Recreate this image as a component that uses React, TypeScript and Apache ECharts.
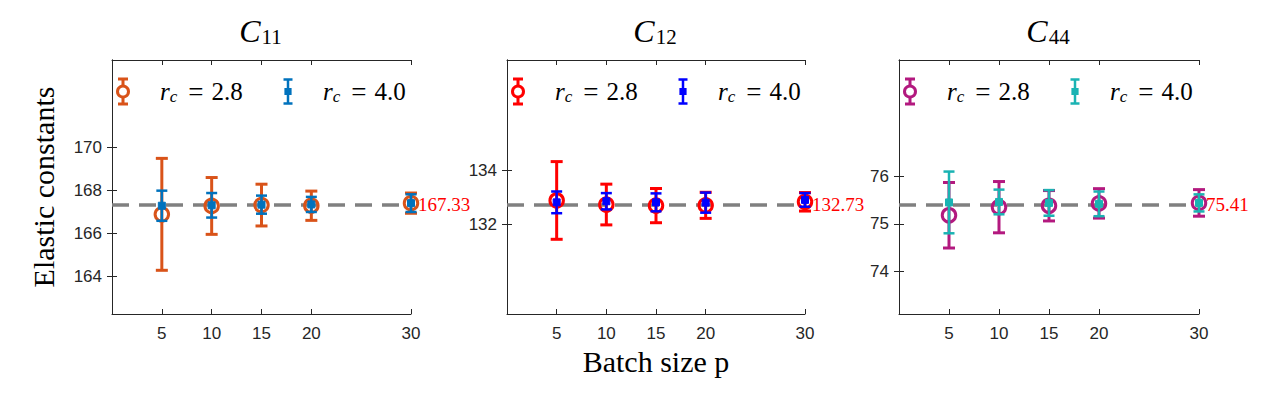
import React, { useEffect, useRef } from "react";
import * as echarts from "echarts";

// ---------- data ----------
const batchSizes = [5, 10, 15, 20, 30];
const xTicks = [5, 10, 15, 20, 30];

const c11Rc28Mean = [166.88, 167.27, 167.31, 167.28, 167.4];
const c11Rc28Err = [2.6, 1.32, 0.97, 0.68, 0.47];
const c11Rc40Mean = [167.28, 167.3, 167.33, 167.34, 167.4];
const c11Rc40Err = [0.7, 0.57, 0.42, 0.35, 0.41];
const c11Ref = 167.33;
const c11Ticks = [164, 166, 168, 170];

const c12Rc28Mean = [132.88, 132.73, 132.69, 132.7, 132.83];
const c12Rc28Err = [1.43, 0.75, 0.63, 0.48, 0.34];
const c12Rc40Mean = [132.81, 132.85, 132.81, 132.8, 132.9];
const c12Rc40Err = [0.4, 0.3, 0.33, 0.37, 0.25];
const c12Ref = 132.73;
const c12Ticks = [132, 134];

const c44Rc28Mean = [75.18, 75.35, 75.38, 75.43, 75.44];
const c44Rc28Err = [0.69, 0.54, 0.32, 0.31, 0.28];
const c44Rc40Mean = [75.45, 75.46, 75.44, 75.42, 75.44];
const c44Rc40Err = [0.65, 0.26, 0.27, 0.26, 0.18];
const c44Ref = 75.41;
const c44Ticks = [74, 75, 76];

const panelTitles = ["11", "12", "44"];
const legendLabels = ["2.8", "4.0"];

// ---------- styling ----------
const panels = [
  { left: 112, width: 299, yMin: 162.25, yMax: 174.05, colors: ["#D95319", "#0072BD"], m28: c11Rc28Mean, e28: c11Rc28Err, m40: c11Rc40Mean, e40: c11Rc40Err, ref: c11Ref, ticks: c11Ticks },
  { left: 507, width: 298, yMin: 128.7, yMax: 138.05, colors: ["#FF0000", "#0000FF"], m28: c12Rc28Mean, e28: c12Rc28Err, m40: c12Rc40Mean, e40: c12Rc40Err, ref: c12Ref, ticks: c12Ticks },
  { left: 899, width: 300, yMin: 73.1, yMax: 78.45, colors: ["#B3197F", "#1AB3B3"], m28: c44Rc28Mean, e28: c44Rc28Err, m40: c44Rc40Mean, e40: c44Rc40Err, ref: c44Ref, ticks: c44Ticks },
];
const GRID_TOP = 60;
const GRID_H = 254;
const AXIS_COLOR = "#262626";
const SANS = "Liberation Sans";
const SERIF = "Liberation Serif";

function errorSeries(i: number, means: number[], errs: number[], color: string, cap: number, lw: number, z: number) {
  return {
    type: "custom",
    xAxisIndex: i,
    yAxisIndex: i,
    z,
    data: batchSizes.map((x, k) => [x, means[k] - errs[k], means[k] + errs[k]]),
    renderItem: (params: any, api: any) => {
      const lo = api.coord([api.value(0), api.value(1)]);
      const hi = api.coord([api.value(0), api.value(2)]);
      const st = { stroke: color, lineWidth: lw };
      return {
        type: "group",
        children: [
          { type: "line", shape: { x1: lo[0], y1: lo[1], x2: hi[0], y2: hi[1] }, style: st },
          { type: "line", shape: { x1: lo[0] - cap, y1: lo[1], x2: lo[0] + cap, y2: lo[1] }, style: st },
          { type: "line", shape: { x1: hi[0] - cap, y1: hi[1], x2: hi[0] + cap, y2: hi[1] }, style: st },
        ],
      };
    },
  };
}

function legendGraphic(p: any) {
  const cy = 91.5;
  const items: any[] = [];
  const mk = (cx: number, color: string, circle: boolean, tx: number, label: string) => {
    const half = circle ? 12.5 : 12;
    const cap = circle ? 5 : 4.5;
    const lw = circle ? 3 : 2.5;
    const st = { stroke: color, lineWidth: lw };
    items.push({ type: "line", shape: { x1: cx, y1: cy - half, x2: cx, y2: cy + half }, style: st, silent: true });
    items.push({ type: "line", shape: { x1: cx - cap, y1: cy - half, x2: cx + cap, y2: cy - half }, style: st, silent: true });
    items.push({ type: "line", shape: { x1: cx - cap, y1: cy + half, x2: cx + cap, y2: cy + half }, style: st, silent: true });
    if (circle) {
      items.push({ type: "circle", shape: { cx, cy, r: 5.5 }, style: { fill: "#fff", stroke: color, lineWidth: 3 }, silent: true });
    } else {
      items.push({ type: "rect", shape: { x: cx - 3, y: cy - 3, width: 6, height: 6 }, style: { fill: color, stroke: color, lineWidth: 1.2 }, silent: true });
    }
    items.push({
      type: "text",
      x: tx,
      y: cy,
      style: {
        text: "{r|r}{c|c}{eq|=}{n|" + label + "}",
        verticalAlign: "middle",
        align: "left",
        font: "24px Liberation Serif",
        rich: {
          r: { font: "italic 25px Liberation Serif", fontFamily: SERIF, fontStyle: "italic", fontSize: 25, lineHeight: 30, fill: "#000" },
          c: { font: "italic 17px Liberation Serif", fontFamily: SERIF, fontStyle: "italic", fontSize: 17, padding: [10, 0, 0, 0], fill: "#000" },
          eq: { font: "27px Liberation Serif", fontFamily: SERIF, fontSize: 27, padding: [0, 8, 0, 11], fill: "#000" },
          n: { font: "25px Liberation Serif", fontFamily: SERIF, fontSize: 25, fill: "#000" },
        },
      },
      silent: true,
    });
  };
  mk(p.left + 11, p.colors[0], true, p.left + 48, legendLabels[0]);
  mk(p.left + 176, p.colors[1], false, p.left + 211, legendLabels[1]);
  return items;
}

export default function App() {
  const ref = useRef<HTMLDivElement>(null);
  useEffect(() => {
    document.body.style.margin = "0";
    if (!ref.current) return;
    const chart = echarts.init(ref.current, null, { renderer: "svg" });

    const grid: any[] = [];
    const xAxis: any[] = [];
    const yAxis: any[] = [];
    const series: any[] = [];
    const title: any[] = [];
    let graphic: any[] = [];

    panels.forEach((p) => {
      grid.push({ left: p.left, top: GRID_TOP, width: p.width, height: GRID_H, containLabel: false });
    });
    panels.forEach((p, i) => {
      xAxis.push({
        type: "value",
        gridIndex: i,
        min: 0,
        max: 30,
        position: "bottom",
        axisLine: { show: true, lineStyle: { color: AXIS_COLOR, width: 1 } },
        axisTick: { show: true, inside: true, length: 5, customValues: xTicks, lineStyle: { color: AXIS_COLOR } },
        axisLabel: { show: true, customValues: xTicks, margin: 11, fontFamily: SANS, fontSize: 17, color: AXIS_COLOR },
        splitLine: { show: false },
        ...(i === 1
          ? {
              name: "Batch size p",
              nameLocation: "middle",
              nameGap: 32,
              nameTextStyle: { fontFamily: SERIF, fontSize: 30, color: "#000", verticalAlign: "top" },
            }
          : {}),
      });
    });
    panels.forEach((p, i) => {
      xAxis.push({
        type: "value",
        gridIndex: i,
        min: 0,
        max: 30,
        position: "top",
        axisLine: { show: true, lineStyle: { color: AXIS_COLOR, width: 1 } },
        axisTick: { show: true, inside: true, length: 5, customValues: xTicks, lineStyle: { color: AXIS_COLOR } },
        axisLabel: { show: false },
        splitLine: { show: false },
      });
    });
    panels.forEach((p, i) => {
      yAxis.push({
        type: "value",
        gridIndex: i,
        min: p.yMin,
        max: p.yMax,
        position: "left",
        axisLine: { show: true, lineStyle: { color: AXIS_COLOR, width: 1 } },
        axisTick: { show: true, inside: true, length: 5, customValues: p.ticks, lineStyle: { color: AXIS_COLOR } },
        axisLabel: { show: true, customValues: p.ticks, margin: 10, fontFamily: SANS, fontSize: 17, color: AXIS_COLOR },
        splitLine: { show: false },
        ...(i === 0
          ? {
              name: "Elastic constants",
              nameLocation: "middle",
              nameGap: 54,
              nameTextStyle: { fontFamily: SERIF, fontSize: 30, color: "#000" },
            }
          : {}),
      });
    });
    panels.forEach((p, i) => {
      yAxis.push({
        type: "value",
        gridIndex: i,
        min: p.yMin,
        max: p.yMax,
        position: "right",
        axisLine: { show: true, lineStyle: { color: AXIS_COLOR, width: 1 } },
        axisTick: { show: true, inside: true, length: 5, customValues: p.ticks, lineStyle: { color: AXIS_COLOR } },
        axisLabel: { show: false },
        splitLine: { show: false },
      });
    });

    panels.forEach((p, i) => {
      series.push({
        type: "line",
        xAxisIndex: i,
        yAxisIndex: i,
        data: [],
        z: 1,
        markLine: {
          silent: true,
          symbol: "none",
          z: 1,
          lineStyle: { color: "#808080", width: 3.5, type: [17, 10] },
          label: {
            show: true,
            position: "end",
            distance: 7,
            formatter: () => "{v|" + p.ref.toFixed(2) + "}",
            rich: {
              v: { fontFamily: SERIF, fontSize: 19, color: "#FF0000", fontWeight: "normal" },
            },
            color: "#FF0000",
            fontFamily: SERIF,
            fontSize: 19,
          },
          emphasis: { disabled: true },
          data: [{ yAxis: p.ref }],
        },
      });
      series.push(errorSeries(i, p.m28, p.e28, p.colors[0], 6, 3, 3));
      series.push({
        type: "scatter",
        xAxisIndex: i,
        yAxisIndex: i,
        z: 4,
        symbol: "circle",
        symbolSize: 13.5,
        itemStyle: { color: "rgba(255,255,255,0)", borderColor: p.colors[0], borderWidth: 3, opacity: 1 },
        data: batchSizes.map((x, k) => [x, p.m28[k]]),
      });
      series.push(errorSeries(i, p.m40, p.e40, p.colors[1], 5.5, 2.5, 5));
      series.push({
        type: "scatter",
        xAxisIndex: i,
        yAxisIndex: i,
        z: 6,
        symbol: "rect",
        symbolSize: 7,
        itemStyle: { color: p.colors[1], borderColor: p.colors[1], borderWidth: 1, opacity: 1 },
        data: batchSizes.map((x, k) => [x, p.m40[k]]),
      });

      title.push({
        text: "{c|C}{s|" + panelTitles[i] + "}",
        left: p.left + p.width / 2 - 6,
        top: 7,
        textAlign: "center",
        textStyle: {
          fontFamily: SERIF,
          fontWeight: "normal",
          rich: {
            c: { fontFamily: SERIF, fontStyle: "italic", fontWeight: "normal", fontSize: 32, lineHeight: 38, color: "#000" },
            s: { fontFamily: SERIF, fontStyle: "normal", fontWeight: "normal", fontSize: 21, padding: [12, 0, 0, 1], color: "#000" },
          },
        },
      });
      graphic = graphic.concat(legendGraphic(p));
    });

    chart.setOption({
      animation: false,
      backgroundColor: "#fff",
      title,
      grid,
      xAxis,
      yAxis,
      series,
      graphic,
      tooltip: { show: false },
    });
    return () => chart.dispose();
  }, []);

  return (
    <div
      ref={ref}
      style={{ position: "fixed", left: 0, top: 0, width: 1262, height: 394, background: "#fff" }}
    />
  );
}
